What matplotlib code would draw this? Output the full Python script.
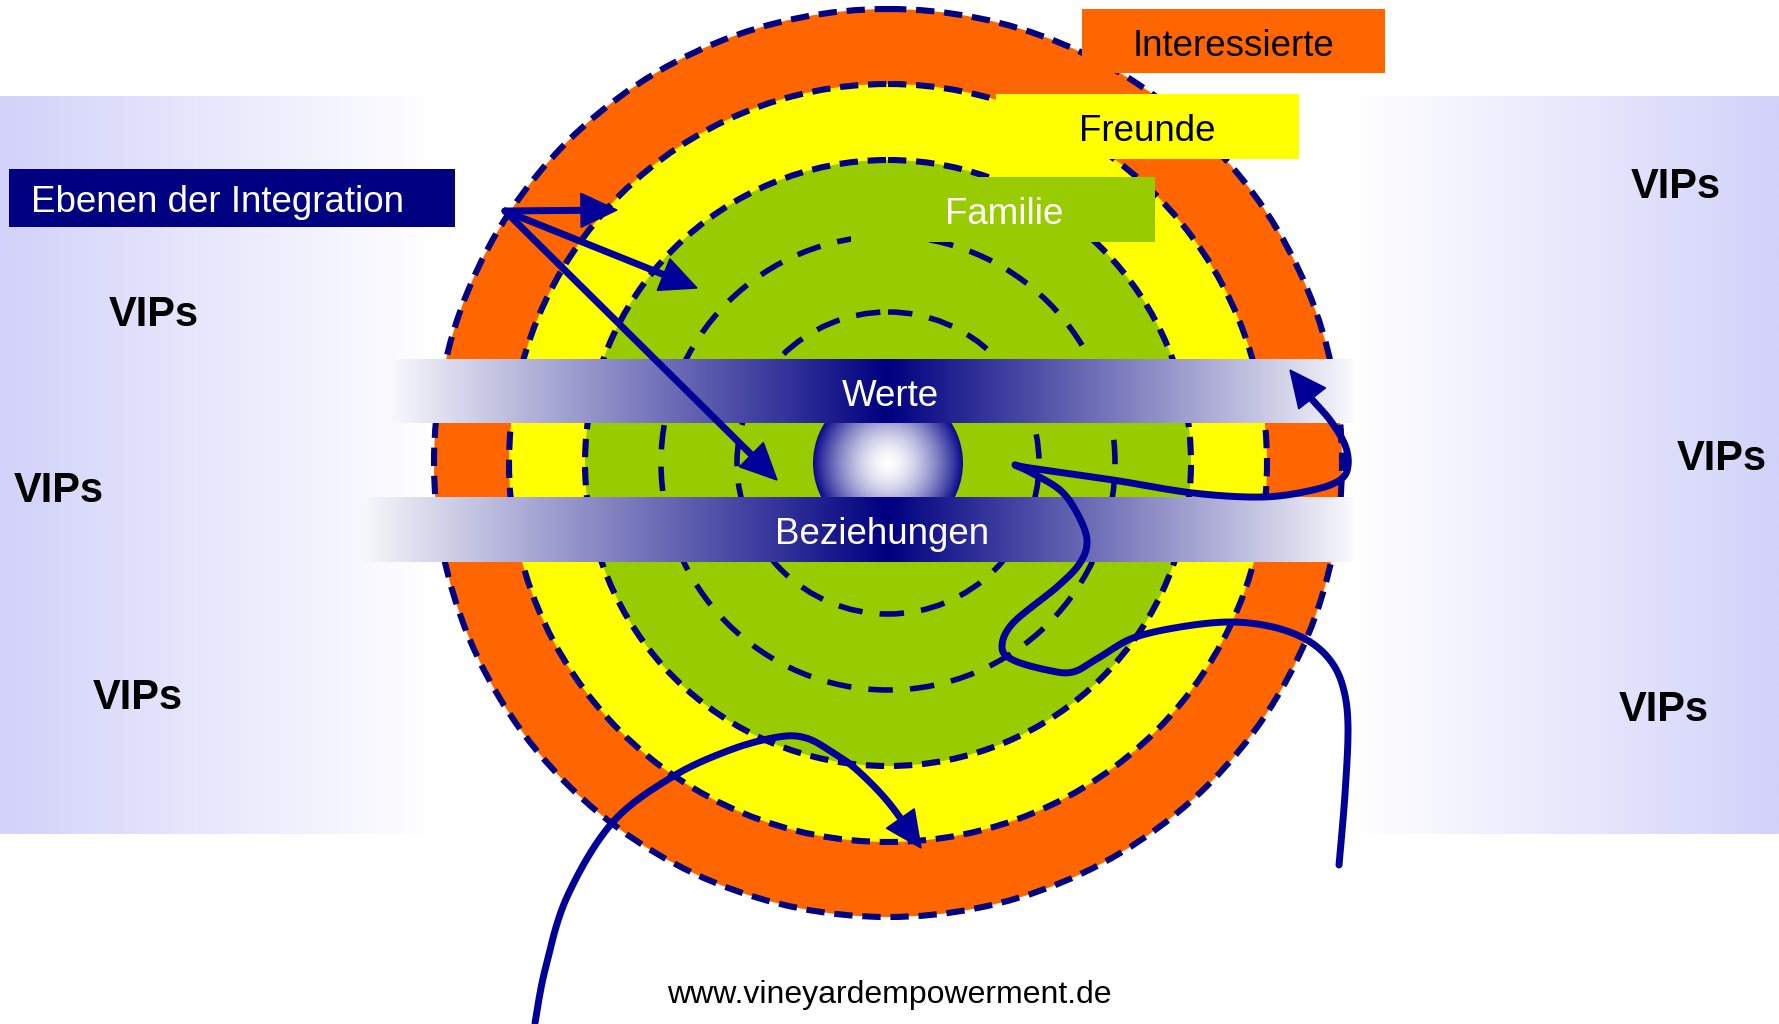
import numpy as np
import matplotlib
matplotlib.use("Agg")
import matplotlib.pyplot as plt
from matplotlib.patches import Circle, Rectangle, Polygon

# Schema: Ebenen der Integration (Koordinaten in Bildpixeln)
center = (888, 463)
ring_radii = [454, 379, 303, 227, 151]
ring_fills = ["#ff6600", "#ffff00", "#99cc00"]
core_radius = 75

band_names = ["Werte", "Beziehungen"]
band_x = [(391, 1353), (361, 1353)]
band_y = [(359, 423), (497, 562)]
band_text_x = [890, 882]

box_names = ["Interessierte", "Freunde", "Familie"]
box_x = [(1082, 1385), (996, 1299), (851, 1155)]
box_y = [(9, 73), (94, 159), (177, 242)]
box_text_x = [1233, 1147, 1004]
box_colors = ["#ff6600", "#ffff00", "#99cc00"]
box_text_colors = ["black", "black", "white"]

vip_x = [154, 59, 138, 1676, 1722, 1664]
vip_y = [311, 487, 694, 183, 455, 706]

# Pfeile vom Startpunkt oben links
arrow_start = (505, 211)
arrow_tips = [(617, 210), (697, 288), (777, 480)]

# geschwungene Linie unten links
curve_low = [(535, 1023), (545, 970), (567, 897), (612, 823), (672, 777), (730, 750),
             (778, 737), (806, 738), (832, 752), (857, 770), (889, 803), (921, 848)]

# geschwungene Linie rechts (von unten nach oben)
curve_right = [(1339, 865), (1345, 794), (1348, 726), (1343, 687), (1330, 660), (1307, 640),
               (1273, 627), (1230, 622), (1180, 627), (1133, 638), (1100, 657), (1073, 672),
               (1047, 670), (1013, 660), (1002, 647), (1013, 623), (1057, 587), (1080, 563),
               (1087, 540), (1077, 513), (1060, 490), (1030, 472), (1015, 465), (1030, 468),
               (1113, 480), (1193, 493), (1263, 497), (1313, 490), (1340, 480), (1348, 466),
               (1345, 445), (1330, 420), (1310, 397), (1290, 370)]

NAVY = "#000080"
ARROW = "#000099"
W, H = 1779, 1024

plt.rcParams["font.family"] = ["Liberation Sans", "DejaVu Sans"]

fig = plt.figure(figsize=(W / 100, H / 100), dpi=100)
ax = fig.add_axes([0, 0, 1, 1])
ax.set_xlim(0, W)
ax.set_ylim(H, 0)
ax.axis("off")


def hgrad(c_left, c_right, n=256):
    t = np.linspace(0, 1, n)[:, None]
    a = np.array(c_left, float) / 255
    b = np.array(c_right, float) / 255
    return (a * (1 - t) + b * t)[None, :, :]


# seitliche Hintergrundflächen
lav = (210, 210, 250)
ax.imshow(hgrad(lav, (255, 255, 255)), extent=(0, 435, 834, 96), aspect="auto", zorder=0)
ax.imshow(hgrad((255, 255, 255), lav), extent=(1353, W, 834, 96), aspect="auto", zorder=0)

# Ringe
for r, c in zip(ring_radii, ring_fills):
    ax.add_patch(Circle(center, r, facecolor=c, edgecolor="none", zorder=1))
for i, r in enumerate(ring_radii):
    if i < 3:
        lw, ls = 4.4, (0, (3.0, 1.6))
    else:
        lw, ls = 4.0, (0, (4.4, 3.1))
    ax.add_patch(Circle(center, r, facecolor="none", edgecolor=NAVY, lw=lw,
                        linestyle=ls, zorder=2))

# Kern mit radialem Verlauf
n = 300
yy, xx = np.mgrid[-1:1:n * 1j, -1:1:n * 1j]
t = np.clip(np.sqrt(xx ** 2 + yy ** 2), 0, 1) ** 1.6
white = np.array([1.0, 1.0, 1.0])
navy = np.array([10, 10, 140]) / 255
core_img = white * (1 - t[..., None]) + navy * t[..., None]
cx, cy = center
im = ax.imshow(core_img, extent=(cx - core_radius, cx + core_radius, cy + core_radius, cy - core_radius),
               aspect="auto", zorder=3)
clip = Circle(center, core_radius, transform=ax.transData)
im.set_clip_path(clip)

# Bänder Werte / Beziehungen
for name, (x0, x1), (y0, y1), tx in zip(band_names, band_x, band_y, band_text_x):
    m = 512
    xs = np.linspace(x0, x1, m)
    d = np.where(xs < cx, (cx - xs) / (cx - x0), (xs - cx) / (x1 - cx))
    d = np.clip(d, 0, 1)
    edge = np.array([248, 248, 252]) / 255
    nv = np.array([0, 0, 128]) / 255
    row = nv * (1 - d[:, None]) + edge * d[:, None]
    ax.imshow(row[None, :, :], extent=(x0, x1, y1, y0), aspect="auto", zorder=4)
    ax.text(tx, (y0 + y1) / 2 + 5, name, color="white", fontsize=26.5,
            ha="center", va="center", zorder=5)

# Beschriftungskästen
for name, (x0, x1), (y0, y1), tx, fc, tc in zip(box_names, box_x, box_y, box_text_x,
                                                 box_colors, box_text_colors):
    ax.add_patch(Rectangle((x0, y0), x1 - x0, y1 - y0, facecolor=fc, edgecolor="none", zorder=6))
    ax.text(tx, (y0 + y1) / 2 + 5, name, color=tc, fontsize=26.5, ha="center", va="center", zorder=7)

ax.add_patch(Rectangle((9, 169), 446, 58, facecolor=NAVY, edgecolor="none", zorder=6))
ax.text(31, 202, "Ebenen der Integration", color="white", fontsize=26.5,
        ha="left", va="center", zorder=7)


def smooth(pts, k=24):
    p = np.array(pts, float)
    p = np.vstack([p[0], p, p[-1]])
    out = []
    s = np.linspace(0, 1, k, endpoint=False)[:, None]
    for i in range(1, len(p) - 2):
        p0, p1, p2, p3 = p[i - 1], p[i], p[i + 1], p[i + 2]
        out.append(0.5 * (2 * p1 + (-p0 + p2) * s + (2 * p0 - 5 * p1 + 4 * p2 - p3) * s ** 2
                          + (-p0 + 3 * p1 - 3 * p2 + p3) * s ** 3))
    out.append(p[-2][None])
    return np.vstack(out)


def arrow_line(pts, head_len=36, head_w=34, lw=5.0):
    pts = np.asarray(pts, float)
    tip = pts[-1]
    dist = np.hypot(*(pts - tip).T)
    back = pts[dist > head_len * 1.3]
    ref = back[-1] if len(back) else pts[0]
    d = tip - ref
    d = d / np.hypot(*d)
    base = tip - d * head_len
    line = np.vstack([pts[dist > head_len * 0.9], base + d * 4])
    ax.plot(line[:, 0], line[:, 1], color=ARROW, lw=lw, solid_capstyle="round",
            solid_joinstyle="round", zorder=8)
    perp = np.array([-d[1], d[0]])
    tri = [tip, base + perp * head_w / 2, base - perp * head_w / 2]
    ax.add_patch(Polygon(tri, closed=True, facecolor=ARROW, edgecolor=ARROW, lw=1, zorder=9))


for tip in arrow_tips:
    arrow_line([arrow_start, tip])

arrow_line(smooth(curve_low))
arrow_line(smooth(curve_right))

# VIPs
for x, y in zip(vip_x, vip_y):
    ax.text(x, y + 4, "VIPs", fontsize=30, fontweight="bold", color="black",
            ha="center", va="center", zorder=10)

ax.text(889, 995, "www.vineyardempowerment.de", fontsize=23, color="black",
        ha="center", va="center", zorder=10)

fig.savefig("out.png", dpi=100)
